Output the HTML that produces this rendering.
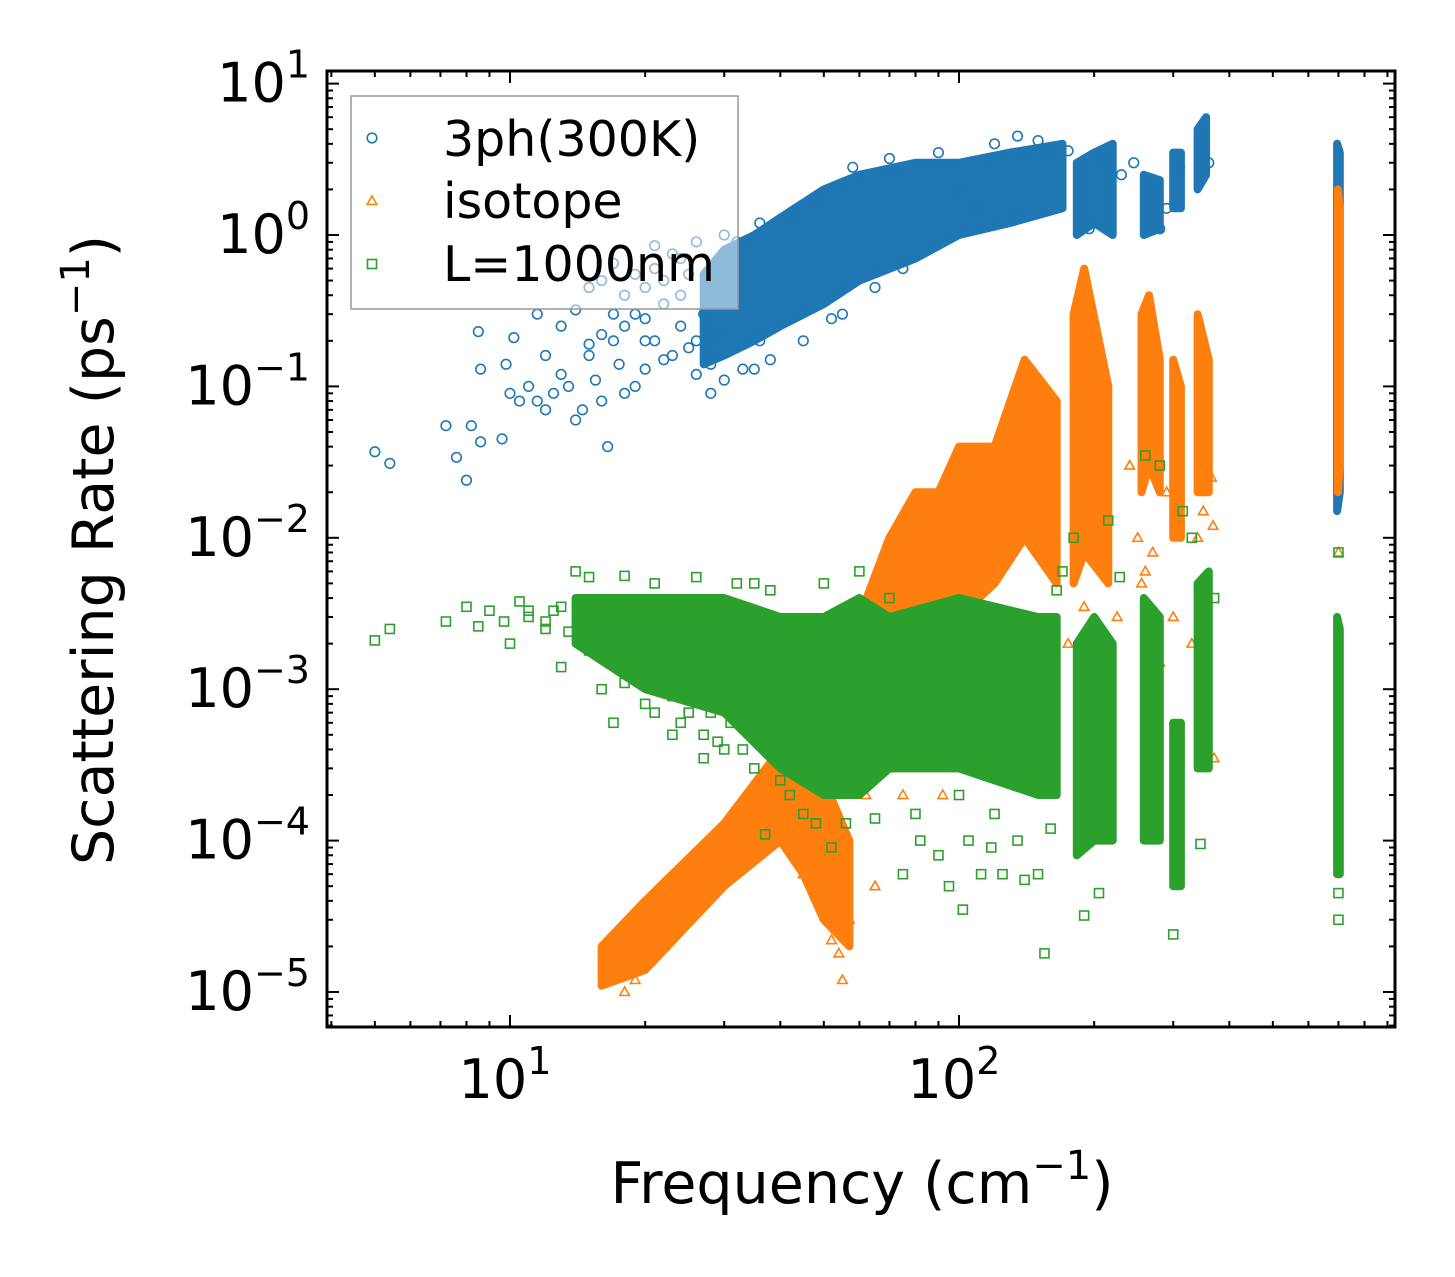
<!DOCTYPE html>
<html><head><meta charset="utf-8"><style>
body{margin:0;background:#fff}
svg{display:block;font-family:"DejaVu Sans","Liberation Sans",sans-serif}
</style></head><body>
<svg id="chart" width="1455" height="1277">
<rect x="0" y="0" width="1455" height="1277" fill="#fff"/>
<g id="plot"></g>
<g id="axes"></g>
</svg>
<script>
// ---- data ----
const xTicks=[10,100];
const yTicks=[1e1,1e0,1e-1,1e-2,1e-3,1e-4,1e-5];
const yTickExp=["1","0","\u22121","\u22122","\u22123","\u22124","\u22125"];
const xTickExp=["1","2"];
// dense bands: segments of [freq, low, high]
const band3ph=[
 [[27,0.14,0.55],[30,0.16,0.8],[35,0.2,1.0],[40,0.25,1.3],[50,0.35,2],[60,0.5,2.5],[80,0.7,3],[100,1,3],[130,1.2,3.5],[170,1.5,4]],
 [[183,1,3],[200,1.2,3.5],[220,1,4]],
 [[258,1,2.5],[280,1.1,2.3]],
 [[300,1.5,3.5],[312,1.5,3.5]],
 [[340,2,5],[355,2.5,6]],
 [[695,0.015,4],[705,0.02,3.5]]
];
const bandIso=[
 [[16,1.1e-5,2e-5],[20,1.4e-5,4e-5],[30,5e-5,1.3e-4],[40,1e-4,4e-4],[45,6e-5,3e-4],[50,3e-5,2.5e-4],[57,2e-5,1e-4]],
 [[60,4e-4,3e-3],[70,1e-3,1e-2],[80,1.5e-3,2e-2],[90,2e-3,2e-2],[100,3e-3,4e-2],[120,5e-3,4e-2],[140,1e-2,0.15],[165,5e-3,8e-2]],
 [[180,5e-3,0.3],[190,8e-3,0.6],[215,5e-3,0.1]],
 [[255,2e-2,0.3],[265,3e-2,0.4],[280,2e-2,0.15]],
 [[300,1e-2,0.15],[312,1e-2,0.1]],
 [[340,2e-2,0.3],[360,2e-2,0.15]],
 [[698,0.02,2],[704,0.03,1.5]]
];
const bandBnd=[
 [[14,2e-3,4e-3],[20,1e-3,4e-3],[30,7e-4,4e-3],[40,3e-4,3e-3],[50,2e-4,3e-3],[60,2e-4,4e-3],[70,3e-4,3e-3],[100,3e-4,4e-3],[150,2e-4,3e-3],[165,2e-4,3e-3]],
 [[183,8e-5,2e-3],[200,1e-4,3e-3],[220,1e-4,2e-3]],
 [[258,1e-4,4e-3],[280,1e-4,3e-3]],
 [[300,5e-5,6e-4],[312,5e-5,6e-4]],
 [[340,3e-4,5e-3],[360,3e-4,6e-3]],
 [[695,6e-5,3e-3],[705,6e-5,2.5e-3]]
];
// scattered points [freq, rate]
const pts3ph=[[5,0.037],[5.4,0.031],[7.2,0.055],[7.6,0.034],[8,0.024],[8.2,0.055],[8.6,0.043],[9.6,0.045],[8.5,0.23],[8.6,0.13],[9.8,0.14],[10,0.09],[10.2,0.21],[10.5,0.08],[11,0.1],[11.5,0.08],[12,0.07],[12.5,0.09],[11.5,0.3],[12,0.16],[13,0.12],[13.5,0.1],[14,0.06],[14.5,0.07],[15,0.19],[15.5,0.11],[16,0.08],[16.5,0.04],[17,0.3],[17.5,0.14],[18,0.09],[19,0.1],[20,0.45],[20,0.13],[21,0.6],[22,0.35],[23,0.75],[24,0.25],[26,0.2],[28,0.09],[30,0.11],[32,0.9],[35,0.13],[38,0.15],[42,1.3],[45,0.2],[55,0.3],[65,0.45],[75,0.6],[120,4],[135,4.5],[160,3.5],[135,1.4],[110,1.5],[230,2.5],[245,3],[290,1.5],[360,3],
 [13,0.25],[14,0.32],[15,0.45],[16,0.22],[16,0.5],[17,0.65],[18,0.4],[19,0.3],[19,0.55],[20,0.28],[21,0.2],[21,0.85],[22,0.5],[23,0.16],[24,0.4],[24,0.7],[25,0.55],[25,0.18],[26,0.9],[27,0.3],[28,0.14],[29,0.22],[15,0.16],[17,0.2],[18,0.25],[20,0.2],[22,0.15],[26,0.12],[33,0.13],[36,0.2],[30,1.0],[36,1.2],[48,1.6],[52,0.28],[58,2.8],[70,3.2],[90,3.5],[100,2],[150,4.2],[175,3.6],[195,1.1],[210,3.2],[280,1.1],[310,2.8]];
const ptsIso=[[55,1.2e-5],[57,3e-5],[45,6e-5],[65,5e-5],[70,3e-4],[75,2e-4],[92,2e-4],[140,1e-3],[150,7e-4],[160,6e-4],[200,1.5e-3],[225,3e-3],[250,1e-2],[255,5e-3],[270,8e-3],[280,1.5e-3],[300,3e-3],[330,2e-3],[370,3.5e-4],[240,3e-2],[350,1.5e-2],[700,8e-3],
 [18,1e-5],[19,1.2e-5],[22,2e-5],[52,2.2e-5],[54,1.8e-5],[62,2e-4],[85,1e-3],[110,2e-3],[130,3e-3],[175,2e-3],[190,3.5e-3],[205,1e-3],[260,6e-3],[290,2e-2],[340,1e-2],[365,2.5e-2],[368,1.2e-2]];
const ptsBnd=[[5,2.1e-3],[5.4,2.5e-3],[7.2,2.8e-3],[8,3.5e-3],[8.5,2.6e-3],[9,3.3e-3],[9.7,2.8e-3],[10,2e-3],[10.5,3.8e-3],[11,3.3e-3],[12,2.8e-3],[12.5,3.3e-3],[13,1.4e-3],[14,6e-3],[15,5.5e-3],[16,1e-3],[17,6e-4],[18,5.6e-3],[19,1.3e-3],[20,8e-4],[21,5e-3],[22,1.3e-3],[23,5e-4],[24,6e-4],[25,1.6e-3],[26,5.5e-3],[27,3.5e-4],[28,7e-4],[30,4e-4],[32,5e-3],[34,1e-3],[38,4.5e-3],[37,1.1e-4],[40,2.5e-4],[45,1.5e-4],[52,9e-5],[56,1.3e-4],[60,6e-3],[70,4e-3],[75,6e-5],[82,1e-4],[90,8e-5],[95,5e-5],[102,3.5e-5],[105,1e-4],[112,6e-5],[118,9e-5],[125,6e-5],[140,5.5e-5],[150,6e-5],[155,1.8e-5],[165,4.5e-3],[180,1e-2],[190,3.2e-5],[205,4.5e-5],[215,1.3e-2],[228,5.5e-3],[260,3.5e-2],[280,3e-2],[300,2.4e-5],[315,1.5e-2],[330,1e-2],[345,9.5e-5],[370,4e-3],[700,3e-5],[700,4.5e-5],[700,8e-3],
 [11,3e-3],[12,2.5e-3],[13,3.5e-3],[13.5,2.4e-3],[15,1.8e-3],[16,2.2e-3],[17,1.5e-3],[18,1.1e-3],[19,2e-3],[21,7e-4],[23,9e-4],[25,7e-4],[27,5e-4],[29,4.5e-4],[31,6e-4],[33,4e-4],[35,3e-4],[35,5e-3],[42,2e-4],[48,1.3e-4],[50,5e-3],[65,1.4e-4],[80,1.5e-4],[100,2e-4],[120,1.5e-4],[135,1e-4],[160,1.2e-4],[170,6e-3]];
// ---- axes mapping ----
const X0=327,X1=1395,Y0=71,Y1=1027;
const dec=449, xRef=510;
const ydec=151.4, yRef=235;
const xs=f=>xRef+(Math.log10(f)-1)*dec;
const ys=r=>yRef-Math.log10(r)*ydec;
const NS="http://www.w3.org/2000/svg";
const plot=document.getElementById('plot'), axes=document.getElementById('axes');
function mk(tag,attrs,parent){const e=document.createElementNS(NS,tag);for(const k in attrs)e.setAttribute(k,attrs[k]);parent.appendChild(e);return e;}
const clip=mk('clipPath',{id:'cp'},plot);mk('rect',{x:X0,y:Y0,width:X1-X0,height:Y1-Y0},clip);
const C={b:'#1f77b4',o:'#ff7f0e',g:'#2ca02c'};
function drawBands(bands,color,name){
 bands.forEach(seg=>{
  let d='M'+seg.map(p=>xs(p[0]).toFixed(1)+','+ys(p[2]).toFixed(1)).join('L');
  d+='L'+seg.slice().reverse().map(p=>xs(p[0]).toFixed(1)+','+ys(p[1]).toFixed(1)).join('L')+'Z';
  const e=mk('path',{d:d,fill:color,stroke:color,'stroke-width':8,'stroke-linejoin':'round','clip-path':'url(#cp)'},plot);
  
  
 });
}
function marker(type,x,y,color,parent){
 let e;
 if(type==='c')e=mk('circle',{cx:x,cy:y,r:4.8,fill:'none',stroke:color,'stroke-width':1.6},parent);
 else if(type==='t')e=mk('path',{d:`M${x},${y-5}L${x+4.8},${y+3.5}L${x-4.8},${y+3.5}Z`,fill:'none',stroke:color,'stroke-width':1.6},parent);
 else e=mk('rect',{x:x-4.5,y:y-4.5,width:9,height:9,fill:'none',stroke:color,'stroke-width':1.6},parent);
 return e;
}
function drawPts(pts,type,color,name){
 pts.forEach(p=>{const e=marker(type,xs(p[0]),ys(p[1]),color,plot);
  
  });
}
drawBands(band3ph,C.b,'3ph-dense-region');drawPts(pts3ph,'c',C.b,'3ph-point');
drawBands(bandIso,C.o,'isotope-dense-region');drawPts(ptsIso,'t',C.o,'isotope-point');
drawBands(bandBnd,C.g,'boundary-dense-region');drawPts(ptsBnd,'s',C.g,'boundary-point');
mk('rect',{x:X0,y:Y0,width:X1-X0,height:Y1-Y0,fill:'none',stroke:'#000','stroke-width':3},axes);
for(let d=0;d<=2;d++){for(let m=1;m<10;m++){const f=m*Math.pow(10,d);const x=xs(f);if(x<X0||x>X1)continue;const L=m===1?12:6;
 mk('line',{x1:x,y1:Y1,x2:x,y2:Y1-L,stroke:'#000','stroke-width':2},axes);mk('line',{x1:x,y1:Y0,x2:x,y2:Y0+L,stroke:'#000','stroke-width':2},axes);}}
for(let d=-6;d<=1;d++){for(let m=1;m<10;m++){const r=m*Math.pow(10,d);const y=ys(r);if(y<Y0||y>Y1)continue;const L=m===1?12:6;
 mk('line',{x1:X0,y1:y,x2:X0+L,y2:y,stroke:'#000','stroke-width':2},axes);mk('line',{x1:X1,y1:y,x2:X1-L,y2:y,stroke:'#000','stroke-width':2},axes);}}
function tickLabel(x,y,exp,anchor,name){
 const t=mk('text',{x:x,y:y,'font-size':54,'text-anchor':anchor,fill:'#000'},axes);
 
 
 t.appendChild(document.createTextNode('10'));
 const s=mk('tspan',{'font-size':38,dy:-24},t);s.textContent=exp;
}
xTicks.forEach((f,i)=>tickLabel(xs(f)-5,1098,xTickExp[i],'middle','x-tick-label'));
yTicks.forEach((r,i)=>tickLabel(310,ys(r)+18,yTickExp[i],'end','y-tick-label'));
</script>
<svg style="position:absolute;left:0;top:0" width="1455" height="1277">
<g font-family="DejaVu Sans, Liberation Sans, sans-serif" fill="#000">
<text x="862" y="1203" font-size="57" text-anchor="middle">Frequency (cm<tspan font-size="40" dy="-24">−1</tspan><tspan dy="24">)</tspan></text>
<text transform="translate(113,550) rotate(-90)" font-size="57" text-anchor="middle">Scattering Rate (ps<tspan font-size="40" dy="-24">−1</tspan><tspan dy="24">)</tspan></text>
<g>
<rect x="351" y="96" width="387" height="213" fill="#fff" fill-opacity="0.5" stroke="#999" stroke-width="1.5"/>
<circle cx="372" cy="138" r="4.8" fill="none" stroke="#1f77b4" stroke-width="1.6"/>
<text x="443" y="156" font-size="49">3ph(300K)</text>
<path d="M372,196L376.8,204.5L367.2,204.5Z" fill="none" stroke="#ff7f0e" stroke-width="1.6"/>
<text x="443" y="218" font-size="49">isotope</text>
<rect x="367.5" y="259.5" width="9" height="9" fill="none" stroke="#2ca02c" stroke-width="1.6"/>
<text x="443" y="281" font-size="49">L=1000nm</text>
</g>
</g>
</svg>
</body></html>
